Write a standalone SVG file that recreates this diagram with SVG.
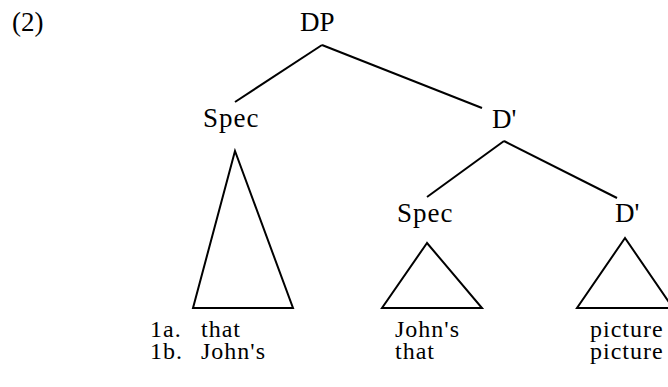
<svg xmlns="http://www.w3.org/2000/svg" width="668" height="387" viewBox="0 0 668 387">
<style>
text{font-family:"Liberation Serif","Times New Roman",serif;font-size:27px;fill:#000}
.l{letter-spacing:1px}
.r{font-size:24px;letter-spacing:1px}
line,polygon{stroke:#000;stroke-width:2;fill:none}
</style>
<rect width="668" height="387" fill="#fff"/>
<text x="12" y="31">(2)</text>
<g id="connectors">
<line x1="322" y1="45" x2="235" y2="102"/>
<line x1="322" y1="45" x2="482" y2="108"/>
<line x1="504" y1="141" x2="427" y2="197"/>
<line x1="504" y1="141" x2="617" y2="198"/>
</g>
<g id="dp"><text x="300" y="31">DP</text></g>
<g id="spec1"><text class="l" x="203" y="127">Spec</text></g>
<g id="dbar1"><text x="492" y="128">D'</text></g>
<g id="spec2"><text class="l" x="397" y="222">Spec</text></g>
<g id="dbar2"><text x="615" y="222">D'</text></g>
<g id="tri1"><polygon points="235,151 193,308 293,308"/></g>
<g id="tri2"><polygon points="427,243 382,308 482,308"/></g>
<g id="tri3"><polygon points="625,238 577,308 673,308"/></g>
<g id="rows">
<text class="r" x="150" y="337">1a.</text>
<text class="r" x="201" y="337">that</text>
<text class="r" x="395" y="337">John's</text>
<text class="r" x="590" y="337">picture</text>
<text class="r" x="150" y="359">1b.</text>
<text class="r" x="201" y="359">John's</text>
<text class="r" x="395" y="359">that</text>
<text class="r" x="590" y="359">picture</text>
</g>
</svg>
